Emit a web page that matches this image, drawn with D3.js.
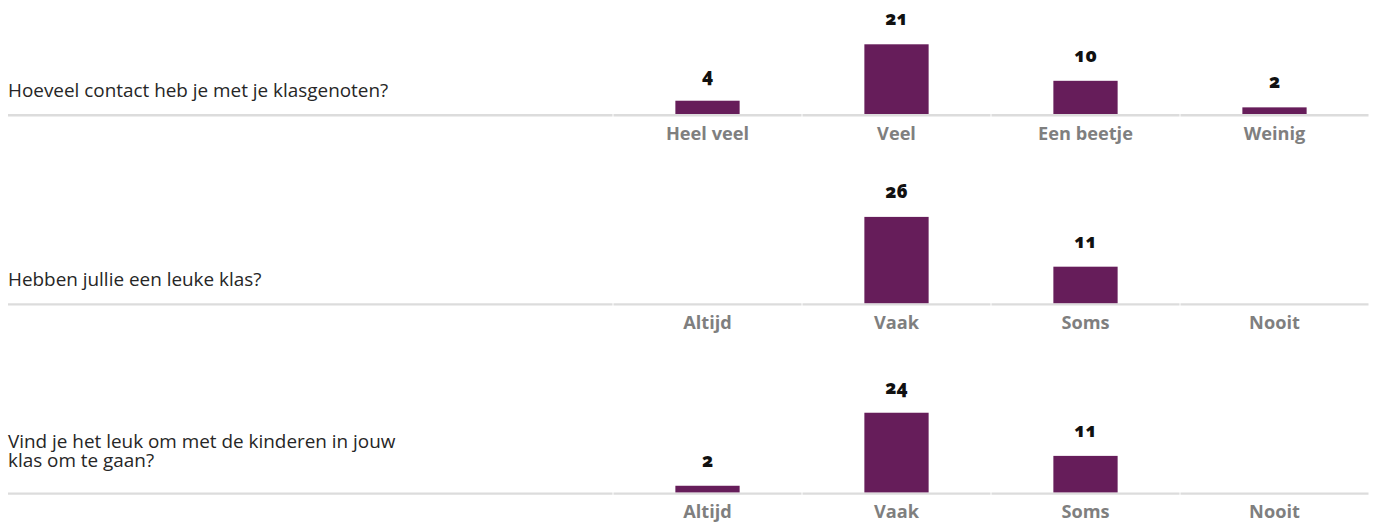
<!DOCTYPE html>
<html>
<head>
<meta charset="utf-8">
<script src="https://cdn.jsdelivr.net/npm/d3@7"></script>
<style>
  body { margin: 0; background: #fff; }
  svg text { font-family: "Open Sans", sans-serif; }
</style>
</head>
<body>
<div id="chart"></div>
<script>
// Survey data
const questions = [
    "Hoeveel contact heb je met je klasgenoten?",
    "Hebben jullie een leuke klas?",
    "Vind je het leuk om met de kinderen in jouw klas om te gaan?"
];
const answersContact = ["Heel veel", "Veel", "Een beetje", "Weinig"];
const countsContact = [4, 21, 10, 2];
const answersFrequency = ["Altijd", "Vaak", "Soms", "Nooit"];
const countsLeukeKlas = [0, 26, 11, 0];
const countsOmgaan = [2, 24, 11, 0];

const panels = [
    { question: questions[0], answers: answersContact, counts: countsContact },
    { question: questions[1], answers: answersFrequency, counts: countsLeukeKlas },
    { question: questions[2], answers: answersFrequency, counts: countsOmgaan }
];

const width = 1375, height = 522;
const firstBase = 114, panelStep = 189.2;
const lineLeft = 8, bandLeft = 613, bandRight = 1369;
const qSize = "18.9px";

const svg = d3.select("#chart")
    .append("svg")
    .attr("width", width)
    .attr("height", height);

// one y scale shared by all panels
const maxCount = d3.max(panels, p => d3.max(p.counts));
const y = d3.scaleLinear()
    .domain([0, maxCount])
    .range([0, 86.3]);

panels.forEach((p, i) => {
    const base = firstBase + i * panelStep;
    const g = svg.append("g");

    const x = d3.scaleBand()
        .domain(p.answers)
        .range([bandLeft, bandRight])
        .paddingInner(0.66)
        .paddingOuter(0.33);

    const step = x.step();
    const rows = p.answers.map((a, j) => ({ answer: a, count: p.counts[j] }));

    // baseline segments (question area + one per category)
    const segs = [[lineLeft, bandLeft - 0.5]].concat(
        p.answers.map((a, j) => [bandLeft + j * step + 0.5, bandLeft + (j + 1) * step - 0.5]));
    g.selectAll(".base")
        .data(segs)
        .enter()
        .append("line")
        .attr("x1", d => d[0])
        .attr("x2", d => d[1])
        .attr("y1", base + 1.2)
        .attr("y2", base + 1.2)
        .style("stroke", "#dcdcdc")
        .style("stroke-width", 2.4);

    // bars
    const shown = rows.filter(d => d.count > 0);
    g.selectAll(".bar")
        .data(shown)
        .enter()
        .append("rect")
        .attr("x", d => x(d.answer))
        .attr("width", x.bandwidth())
        .attr("y", d => base - y(d.count))
        .attr("height", d => y(d.count))
        .style("fill", "#661d5a");

    // value labels
    g.selectAll(".val")
        .data(shown)
        .enter()
        .append("text")
        .attr("x", d => x(d.answer) + x.bandwidth() / 2)
        .attr("y", d => base - y(d.count) - 19)
        .attr("text-anchor", "middle")
        .style("font-size", "18.5px")
        .style("font-weight", "800")
        .style("font-variant-numeric", "oldstyle-nums")
        .style("fill", "#111")
        .text(d => d.count);

    // category labels
    g.selectAll(".cat")
        .data(rows)
        .enter()
        .append("text")
        .attr("x", d => x(d.answer) + x.bandwidth() / 2)
        .attr("y", base + 26)
        .attr("text-anchor", "middle")
        .style("font-size", "18.2px")
        .style("font-weight", "bold")
        .style("fill", "#7f7f7f")
        .text(d => d.answer);

    // question text, wrapped
    const words = p.question.split(" ");
    const lines = [];
    let cur = [];
    const probe = g.append("text").style("font-size", qSize);
    words.forEach(w => {
        const test = cur.concat(w).join(" ");
        probe.text(test);
        if (probe.node().getComputedTextLength() > 405 && cur.length) {
            lines.push(cur.join(" "));
            cur = [w];
        } else {
            cur.push(w);
        }
    });
    lines.push(cur.join(" "));
    probe.remove();
    const lastY = base - 17.5 - (lines.length - 1) * 8;
    lines.forEach((t, k) => {
        g.append("text")
            .attr("x", lineLeft)
            .attr("y", lastY - (lines.length - 1 - k) * 18.7)
            .style("font-size", qSize)
            .style("fill", "#262626")
            .text(t);
    });
});
</script>
</body>
</html>
